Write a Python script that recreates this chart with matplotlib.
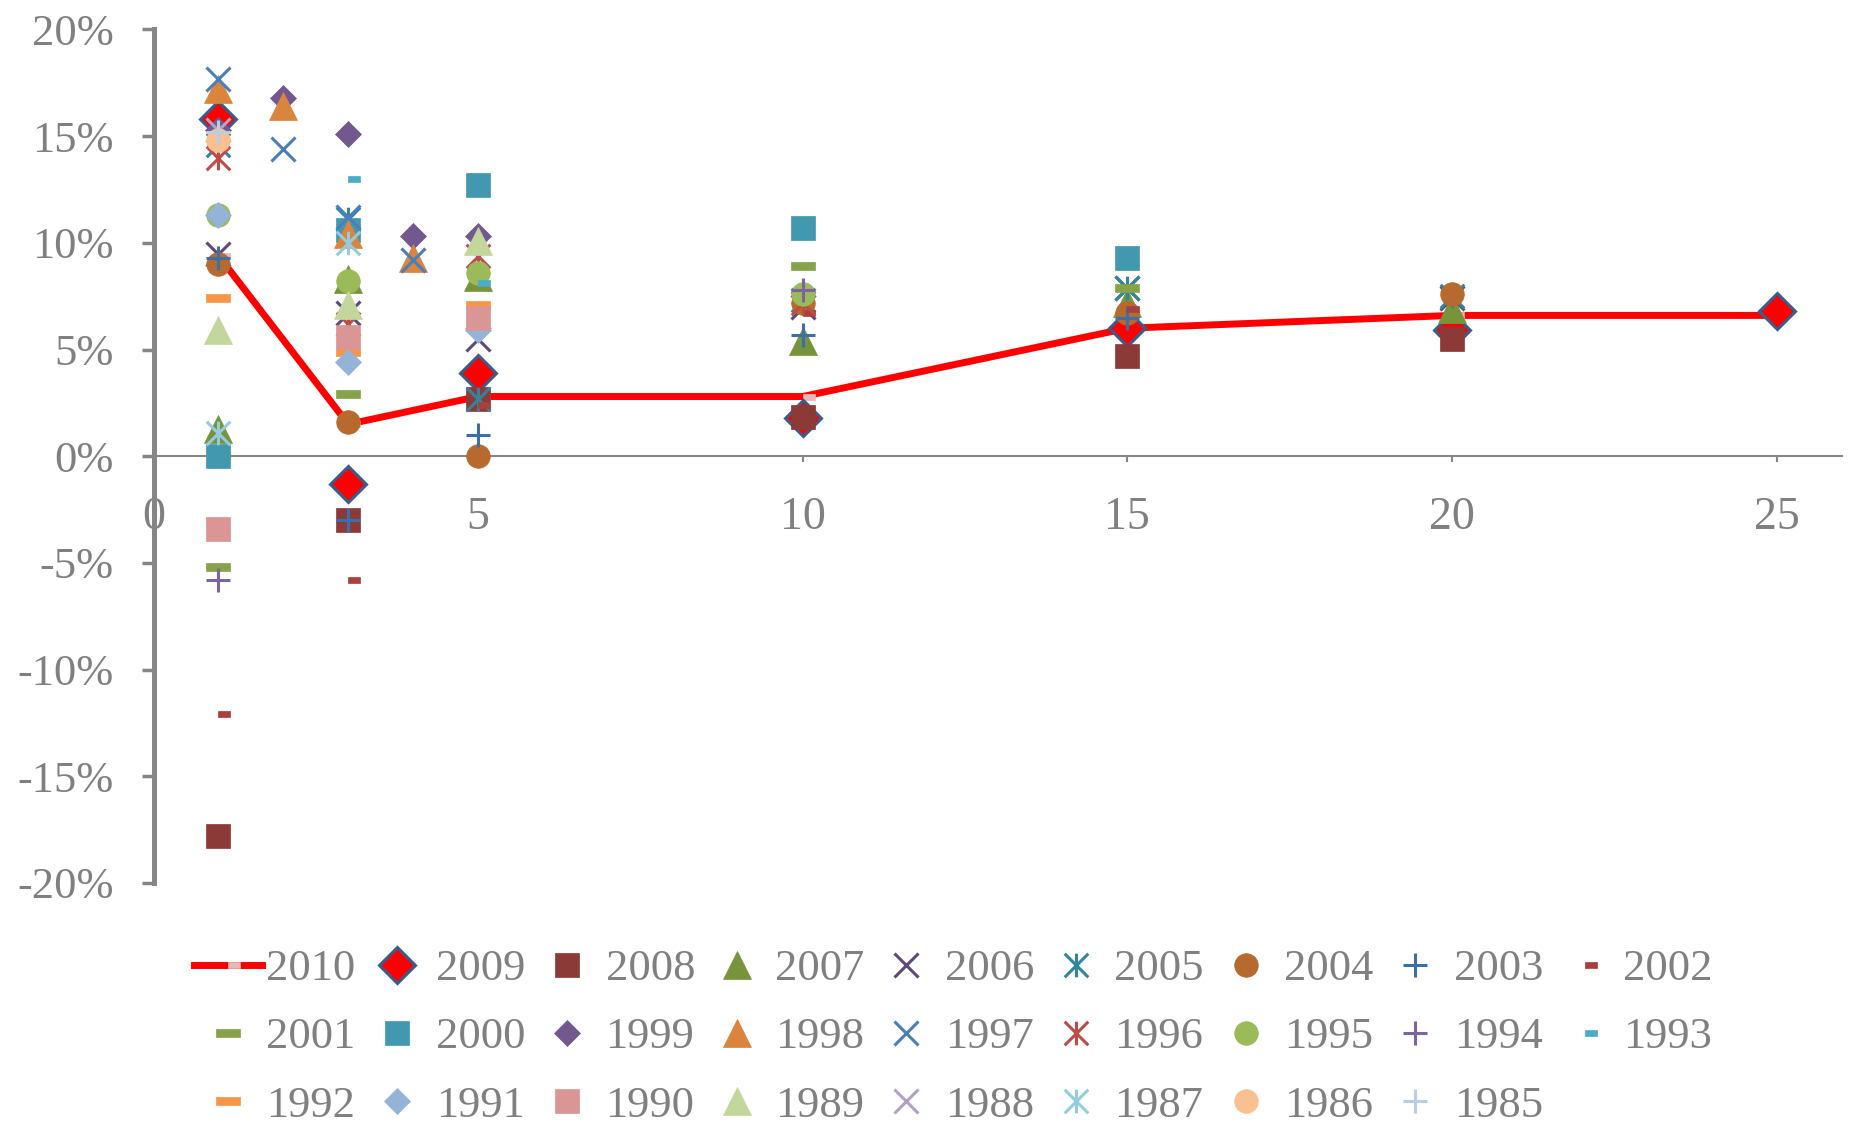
import matplotlib.pyplot as plt
from matplotlib.path import Path
from matplotlib.ticker import FuncFormatter

plt.rcParams['font.family'] = ['Liberation Serif', 'DejaVu Serif']
plt.rcParams['axes.unicode_minus'] = False

# return (%) by holding period (years) for each start year
s2010 = {1: 9.4, 3: 1.5, 5: 2.8, 10: 2.8, 15: 6.0, 20: 6.6, 25: 6.6}
s2009 = {1: 15.8, 3: -1.3, 5: 3.9, 10: 1.8, 15: 6.0, 20: 5.9, 25: 6.8}
s2008 = {1: -17.8, 3: -3.0, 5: 2.7, 10: 1.85, 15: 4.7, 20: 5.5}
s2007 = {1: 1.3, 3: 8.3, 5: 8.4, 10: 5.4, 15: 7.2, 20: 6.9}
s2006 = {1: 9.5, 3: 6.7, 5: 5.5, 10: 7.0, 15: 7.9, 20: 7.4}
s2005 = {1: 14.6, 3: 11.1, 5: 2.7, 10: 7.3, 15: 7.9, 20: 7.5}
s2004 = {1: 9.0, 3: 1.6, 5: 0.0, 10: 7.2, 15: 6.7, 20: 7.6}
s2003 = {1: 9.3, 3: -3.0, 5: 1.0, 10: 5.7, 15: 6.5}
s2002 = {1: -12.1, 3: -5.8, 5: 2.4, 10: 6.7, 15: 6.9}
s2001 = {1: -5.2, 3: 2.9, 10: 8.9, 15: 7.9}
s2000 = {1: 0.0, 3: 10.6, 5: 12.7, 10: 10.7, 15: 9.3}
s1999 = {1: 15.3, 2: 16.8, 3: 15.1, 4: 10.3, 5: 10.3}
s1998 = {1: 17.2, 2: 16.4, 3: 10.4, 4: 9.3}
s1997 = {1: 17.7, 2: 14.4, 3: 11.2, 4: 9.2}
s1996 = {1: 14.0, 3: 6.2, 5: 9.4, 10: 7.2}
s1995 = {1: 11.3, 3: 8.2, 5: 8.6, 10: 7.6}
s1994 = {1: -5.8, 10: 7.8}
s1993 = {3: 13.0, 5: 8.1}
s1992 = {1: 7.4, 3: 4.9, 5: 7.1}
s1991 = {1: 11.3, 3: 4.4, 5: 5.9}
s1990 = {1: -3.4, 3: 5.6, 5: 6.5}
s1989 = {1: 5.9, 3: 7.1, 5: 10.1}
s1988 = {1: 15.3}
s1987 = {1: 1.1, 3: 10.0}
s1986 = {1: 14.8}
s1985 = {1: 15.2}

years = list(range(2010, 1984, -1))
series = [s2010, s2009, s2008, s2007, s2006, s2005, s2004, s2003, s2002,
          s2001, s2000, s1999, s1998, s1997, s1996, s1995, s1994, s1993,
          s1992, s1991, s1990, s1989, s1988, s1987, s1986, s1985]

# excel-like marker shapes
short_dash = Path([(0, -0.3), (1, -0.3), (1, 0.3), (0, 0.3), (0, -0.3)], closed=True)
long_dash = Path([(-1, -0.3), (1, -0.3), (1, 0.3), (-1, 0.3), (-1, -0.3)], closed=True)
aster = Path([(-0.5, -0.5), (0.5, 0.5), (-0.5, 0.5), (0.5, -0.5), (0, -0.5), (0, 0.5)],
             [Path.MOVETO, Path.LINETO, Path.MOVETO, Path.LINETO, Path.MOVETO, Path.LINETO])

# marker, size, colour
styles = [
    (short_dash, 16.6, '#E6B9B8'),
    ('D', 18, '#FF0000'),
    ('s', 17, '#8B3A37'),
    ('^', 20, '#77933C'),
    ('x', 17, '#5F497A'),
    (aster, 17, '#31859C'),
    ('o', 17, '#B66A2E'),
    ('+', 17, '#3C6EAA'),
    (short_dash, 16.6, '#A9403D'),
    (long_dash, 17, '#87A34A'),
    ('s', 17, '#4198AF'),
    ('D', 13.7, '#71588F'),
    ('^', 20, '#DB843D'),
    ('x', 17, '#4A7EBB'),
    (aster, 17, '#BE4B48'),
    ('o', 17, '#9BBB59'),
    ('+', 17, '#7E62A1'),
    (short_dash, 16.6, '#4BACC6'),
    (long_dash, 17, '#F79646'),
    ('D', 13.7, '#95B3D7'),
    ('s', 17, '#D99694'),
    ('^', 20, '#C3D69B'),
    ('x', 17, '#B3A2C7'),
    (aster, 17, '#93CDDD'),
    ('o', 17, '#FAC090'),
    ('+', 17, '#B9CDE5'),
]

grey = '#808080'
fig = plt.figure(figsize=(18.51, 11.26), dpi=100)
ax = fig.add_axes([153.5 / 1851, 243 / 1126, 1688 / 1851, 853.5 / 1126])

handles = []
for i, (yr, s, st) in enumerate(zip(years, series, styles)):
    mk, ms, col = st
    xs = list(s.keys())
    ys = list(s.values())
    line_kw = dict(linestyle='none')
    if yr == 2010:
        line_kw = dict(linestyle='-', color='#FF0000', linewidth=5)
    if mk in ('x', '+') or mk is aster:
        h, = ax.plot(xs, ys, marker=mk, markersize=ms, markerfacecolor='none',
                     markeredgecolor=col, markeredgewidth=2.2, zorder=3 + i,
                     clip_on=False, label=str(yr), **line_kw)
    elif yr == 2009:
        h, = ax.plot(xs, ys, marker=mk, markersize=ms, markerfacecolor=col,
                     markeredgecolor='#385D8A', markeredgewidth=2.2, zorder=3 + i,
                     clip_on=False, label=str(yr), **line_kw)
    else:
        h, = ax.plot(xs, ys, marker=mk, markersize=ms, markerfacecolor=col,
                     markeredgecolor=col, markeredgewidth=0.5, zorder=3 + i,
                     clip_on=False, label=str(yr), **line_kw)
    handles.append(h)

ax.set_xlim(0, 26)
ax.set_ylim(-20, 20)
ax.set_xticks([0, 5, 10, 15, 20, 25])
ax.set_yticks(range(-20, 21, 5))
ax.yaxis.set_major_formatter(FuncFormatter(lambda v, p: '%d%%' % round(v)))

for side in ('top', 'right'):
    ax.spines[side].set_visible(False)
ax.spines['bottom'].set_position(('data', 0))
ax.spines['bottom'].set_color('#868686')
ax.spines['bottom'].set_linewidth(1.5)
ax.spines['left'].set_color('#868686')
ax.spines['left'].set_linewidth(3.6)
ax.spines['left'].set_zorder(40)

ax.tick_params(axis='y', direction='out', length=8.6, width=2.5, color='#868686',
               labelsize=32, labelcolor=grey, pad=20)
ax.tick_params(axis='x', direction='out', length=4.3, width=1.5, color='#868686',
               labelsize=33, labelcolor=grey, pad=25)

# excel fills the legend row by row, matplotlib by column
order = []
for c in range(9):
    for r in range(3):
        k = r * 9 + c
        if k < len(handles):
            order.append(k)
fig.legend([handles[k] for k in order], [str(years[k]) for k in order],
           ncol=9, loc='upper left', bbox_to_anchor=(193.5 / 1851, 0.157),
           frameon=False, fontsize=32, labelcolor=grey, handlelength=1.55,
           handletextpad=0.09, columnspacing=0.165, labelspacing=0.63,
           borderpad=0, borderaxespad=0, numpoints=1)

fig.savefig('out.png', dpi=100)
